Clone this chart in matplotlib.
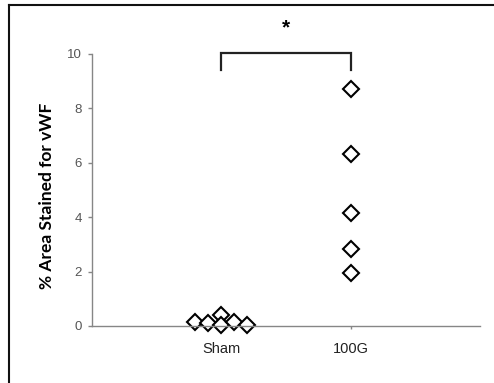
import matplotlib
matplotlib.use("Agg")
import matplotlib.pyplot as plt
from matplotlib.lines import Line2D

# group labels and measured values (% area stained for vWF)
groups = ["Sham", "100G"]
sham_x = [0.8, 0.9, 1.0, 1.0, 1.1, 1.2]
sham_y = [0.14, 0.12, 0.40, 0.04, 0.13, 0.03]
g100_x = [2, 2, 2, 2, 2]
g100_y = [8.72, 6.33, 4.14, 2.82, 1.94]

fig = plt.figure(figsize=(4.94, 3.83), dpi=100)
ax = fig.add_axes([91.7 / 494, 1 - 326 / 383, (480 - 91.7) / 494, (326 - 54) / 383])

marker_style = dict(linestyle="none", marker="D", markersize=8.5, markerfacecolor="white",
                    markeredgecolor="black", markeredgewidth=1.5, clip_on=False)
ax.plot(sham_x, sham_y, **marker_style)
ax.plot(g100_x, g100_y, **marker_style)

ax.set_xlim(0, 3)
ax.set_ylim(0, 10)
ax.set_xticks([1, 2])
ax.set_xticklabels(groups)
ax.set_yticks(range(0, 11, 2))

for side in ["top", "right"]:
    ax.spines[side].set_visible(False)
for side in ["left", "bottom"]:
    ax.spines[side].set_color("#868686")
    ax.spines[side].set_linewidth(1.0)

ax.tick_params(axis="y", direction="out", length=3, width=1, color="#868686",
               labelsize=9.5, labelcolor="#555555", pad=4)
ax.tick_params(axis="x", direction="out", length=2.5, width=1, color="#868686",
               labelsize=10.5, labelcolor="#222222", pad=9)
for lab in ax.get_xticklabels() + ax.get_yticklabels():
    lab.set_fontfamily("Liberation Sans")

ax.set_ylabel("% Area Stained for vWF", fontsize=12.5, fontweight="bold", family="Lato")
ax.yaxis.set_label_coords(-0.095, 0.478)

# significance bracket between the two groups
ax.plot([1, 1, 2, 2], [9.41, 10.03, 10.03, 9.41], color="#222222", lw=1.6, clip_on=False,
        solid_joinstyle="miter")
ax.text(1.5, 10.95, "*", ha="center", va="center", fontsize=15, fontweight="bold",
        family="Liberation Sans")

# frame around the panel (top and left edges)
fig.add_artist(Line2D([8.8 / 494, 8.8 / 494], [0, 1 - 4.8 / 383], transform=fig.transFigure,
                      color="#111111", lw=1.5))
fig.add_artist(Line2D([8.8 / 494, 1], [1 - 4.8 / 383, 1 - 4.8 / 383], transform=fig.transFigure,
                      color="#111111", lw=1.5))

fig.savefig("out.png", dpi=100)
